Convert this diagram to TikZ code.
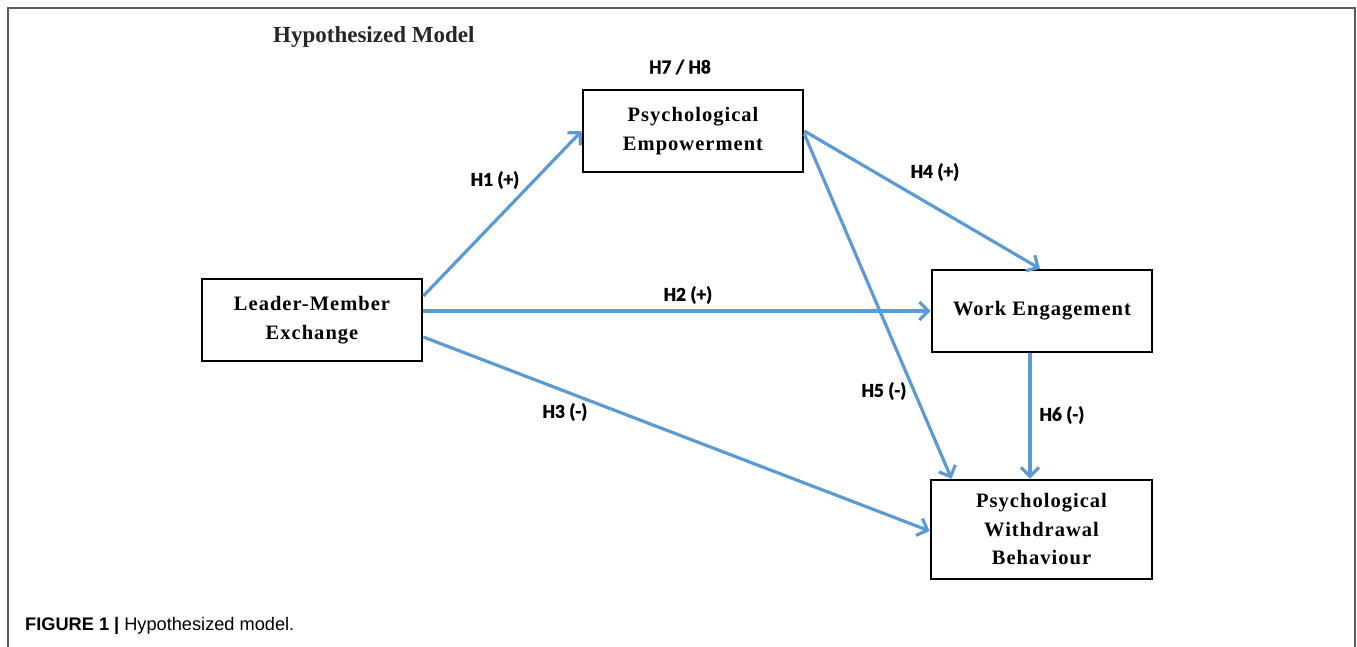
\documentclass[tikz,border=0pt]{standalone}
\usepackage{fontspec}
\setmainfont{Liberation Serif}
\newfontfamily\boxfont[LetterSpace=5]{Liberation Serif}
\newfontfamily\labfont[FakeBold=1.5]{Carlito}
\newfontfamily\capfont{Liberation Sans}
\usetikzlibrary{arrows.meta}
\definecolor{arrowblue}{RGB}{91,155,213}
\definecolor{framegray}{RGB}{90,90,90}
\begin{document}
\begin{tikzpicture}[x=1pt,y=-1pt,
  varbox/.style={draw=black, line width=2.6pt, minimum width=220pt, minimum height=82pt, inner sep=0pt, align=center,
    font={\boxfont\bfseries\fontsize{20.5}{28.5}\selectfont}},
  path/.style={draw=arrowblue, line width=3.2pt, -{Straight Barb[length=9pt,width=18pt,line width=3.2pt]}},
  hlab/.style={font={\labfont\bfseries\fontsize{19.5}{21}\selectfont}, inner sep=0pt}
]
\useasboundingbox (0,0) rectangle (1357,647);
\draw[framegray, line width=2pt] (8,647) -- (8,8.5) -- (1355,8.5) -- (1355,647);
\node[anchor=base west, inner sep=0pt, font={\bfseries\fontsize{23}{26}\selectfont}, text=black!85] (title) at (273,43) {Hypothesized Model};

\node[varbox] (pe) at (693,131) {Psychological\\Empowerment};
\node[varbox] (lmx) at (312,320) {Leader-Member\\Exchange};
\node[varbox] (we) at (1042,311) {Work Engagement};
\node[varbox, minimum width=221pt, minimum height=99pt] (pwb) at (1041.5,529.5) {Psychological\\Withdrawal\\Behaviour};

\draw[path] ([yshift=24pt]lmx.east) -- (pe.west);
\draw[path] ([yshift=9pt]lmx.east) -- (we.west);
\draw[path] ([yshift=-17pt]lmx.east) -- ([yshift=-1.5pt]pwb.west);
\draw[path] (pe.east) -- ([xshift=-2pt]we.north);
\draw[path] ([yshift=-3pt]pe.east) -- ([xshift=-90pt]pwb.north);
\draw[path] ([xshift=-12pt]we.south) -- ([xshift=-11.5pt]pwb.north);

\node[hlab] (h78) at (680,67) {H7 / H8};
\node[hlab] (h1) at (495,180) {H1 (+)};
\node[hlab] (h2) at (688,295) {H2 (+)};
\node[hlab] (h3) at (565,412) {H3 (-)};
\node[hlab] (h4) at (935,172) {H4 (+)};
\node[hlab] (h5) at (884,391) {H5 (-)};
\node[hlab] (h6) at (1062,415) {H6 (-)};

\node[anchor=base west, inner sep=0pt, font={\capfont\fontsize{18.2}{20}\selectfont}] (cap) at (25,630) {\textbf{FIGURE 1 |} Hypothesized model.};
\end{tikzpicture}
\end{document}
